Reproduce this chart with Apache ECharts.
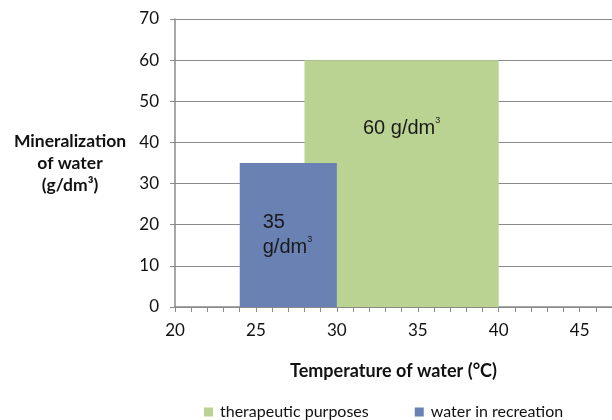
<!DOCTYPE html>
<html>
<head>
<meta charset="utf-8">
<script src="https://cdn.jsdelivr.net/npm/echarts@6/dist/echarts.min.js"></script>
<style>
  html, body { margin: 0; padding: 0; background: #fff; }
  #chart { width: 612px; height: 420px; }
</style>
</head>
<body>
<div id="chart"></div>
<script>
// Temperature ranges (°C) and mineralization limits (g/dm³) for each use
const seriesNames = ['therapeutic purposes', 'water in recreation'];
const tempFrom = [28, 24];
const tempTo = [40, 30];
const mineralization = [60, 35];
const xTickLabels = [20, 25, 30, 35, 40, 45];
const yTickLabels = [0, 10, 20, 30, 40, 50, 60, 70];

const colors = ['#bbd392', '#6981b3'];
const gray = '#8a8a8a';
const tickFont = 'Lato, "Open Sans", sans-serif';
const labelFont = '"Liberation Sans", Arial, sans-serif';

function makeRenderer(idx) {
  return function (params, api) {
    const x0 = api.value(0), x1 = api.value(1), v = api.value(2);
    const p0 = api.coord([x0, 0]);
    const p1 = api.coord([x1, v]);
    const rect = {
      type: 'rect',
      shape: { x: p0[0], y: p1[1], width: p1[0] - p0[0], height: p0[1] - p1[1] },
      style: { fill: colors[idx] }
    };
    const rich = {
      n: { fontSize: 20, lineHeight: 25, fontFamily: labelFont, fill: '#1a1a1a' },
      s: { fontSize: 9, lineHeight: 25, fontFamily: labelFont, fill: '#1a1a1a', verticalAlign: 'top', padding: [0, 0, 11, 0] }
    };
    let text;
    if (idx === 0) {
      // value label centred inside the wider block
      text = {
        type: 'text',
        x: (p0[0] + p1[0]) / 2,
        y: p1[1] + 68,
        style: { text: '{n|' + v + ' g/dm}{s|3}', align: 'center', verticalAlign: 'middle', rich: rich }
      };
    } else {
      // two-line value label in the narrow block
      text = {
        type: 'text',
        x: p0[0] + 23,
        y: p1[1] + 72,
        style: { text: '{n|' + v + '}\n{n|g/dm}{s|3}', align: 'left', verticalAlign: 'middle', rich: rich }
      };
    }
    return { type: 'group', children: [rect, text] };
  };
}

const series = seriesNames.map((name, i) => ({
  name: name,
  type: 'custom',
  renderItem: makeRenderer(i),
  itemStyle: { color: colors[i] },
  encode: { x: [0, 1], y: 2 },
  z: 2 + i,
  data: [[tempFrom[i], tempTo[i], mineralization[i]]]
}));

const chart = echarts.init(document.getElementById('chart'), null, { renderer: 'canvas' });
chart.setOption({
  animation: false,
  backgroundColor: '#fff',
  grid: { left: 175, right: 0, top: 19, bottom: 113, containLabel: false },
  xAxis: {
    type: 'value',
    min: 20, max: 47, interval: 1,
    name: 'Temperature of water (°C)',
    nameLocation: 'middle',
    nameGap: 55,
    nameTextStyle: { fontFamily: tickFont, fontWeight: 'bold', fontSize: 18, color: '#111' },
    axisLine: { lineStyle: { color: gray, width: 1.5 } },
    axisTick: { show: true, length: 5, inside: false, lineStyle: { color: gray } },
    splitLine: { show: false },
    axisLabel: {
      margin: 15,
      fontFamily: tickFont, fontSize: 17, color: '#111',
      showMaxLabel: false,
      formatter: v => (xTickLabels.indexOf(v) >= 0 ? String(v) : '')
    }
  },
  yAxis: {
    type: 'value',
    min: 0, max: 70, interval: 10,
    name: 'Mineralization\nof water\n(g/dm³)',
    nameLocation: 'middle',
    nameRotate: 0,
    nameGap: 105,
    nameTextStyle: { fontFamily: tickFont, fontWeight: 'bold', fontSize: 17.5, lineHeight: 22, color: '#111', align: 'center' },
    axisLine: { show: true, lineStyle: { color: gray, width: 1.5 } },
    axisTick: { show: true, length: 5, lineStyle: { color: gray } },
    splitLine: { show: true, lineStyle: { color: gray, width: 1.2 } },
    axisLabel: {
      margin: 16,
      fontFamily: tickFont, fontSize: 17, color: '#111',
      formatter: v => (yTickLabels.indexOf(v) >= 0 ? String(v) : '')
    }
  },
  legend: {
    data: seriesNames,
    left: 199, top: 399,
    icon: 'rect', itemWidth: 9, itemHeight: 9, itemGap: 46,
    textStyle: { fontFamily: tickFont, fontSize: 16, color: '#111', padding: [0, 0, 0, 2] }
  },
  series: series
});
</script>
</body>
</html>
